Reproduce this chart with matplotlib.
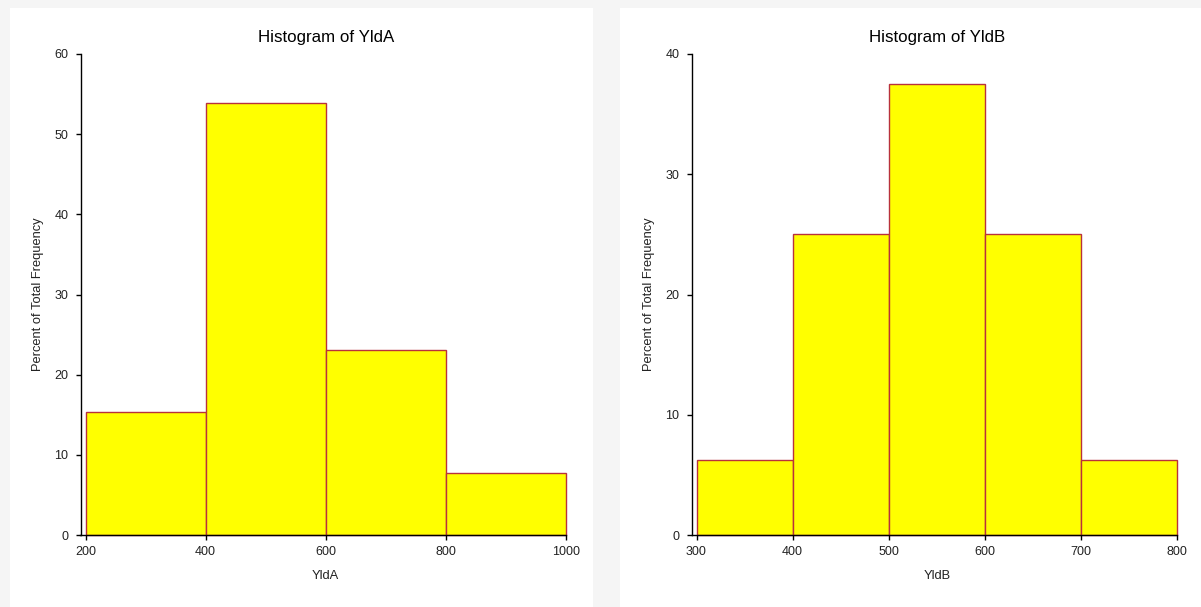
import matplotlib
matplotlib.use("Agg")
import matplotlib.pyplot as plt
from matplotlib.patches import Rectangle

plt.rcParams['font.family'] = ['Liberation Sans', 'DejaVu Sans']

# Data
binsA = [200, 400, 600, 800, 1000]
pctA = [15.38, 53.85, 23.08, 7.69]
binsB = [300, 400, 500, 600, 700, 800]
pctB = [6.25, 25.0, 37.5, 25.0, 6.25]
titles = ["Histogram of YldA", "Histogram of YldB"]
xlabels = ["YldA", "YldB"]
ylabel = "Percent of Total Frequency"
yticksA = [0, 10, 20, 30, 40, 50, 60]
yticksB = [0, 10, 20, 30, 40]

W, H = 1201, 607
fig = plt.figure(figsize=(W / 100, H / 100), dpi=100, facecolor='#f5f5f5')

# white panels
for (x0, x1) in [(10, 593), (620, 1201)]:
    fig.patches.append(Rectangle((x0 / W, 0), (x1 - x0) / W, (H - 8) / H,
                                 transform=fig.transFigure, facecolor='white',
                                 edgecolor='none', zorder=-10))

fill = '#ffff00'
edge = '#b8323c'
txt = '#222222'
OFFSET_PX = 5.0

def panel(rect, bins, pct, yticks, title, xlabel):
    ax = fig.add_axes(rect)
    ax.set_facecolor('none')
    widths = [bins[i + 1] - bins[i] for i in range(len(pct))]
    bars = ax.bar(bins[:-1], pct, width=widths, align='edge', color=fill,
                  edgecolor=edge, linewidth=1.0)
    for b in bars:
        b.set_clip_on(False)
    ax.set_xlim(bins[0], bins[-1])
    ax.set_ylim(yticks[0], yticks[-1])
    ax.set_xticks(bins)
    ax.set_yticks(yticks)
    for s in ['top', 'right']:
        ax.spines[s].set_visible(False)
    ax.spines['left'].set_position(('outward', OFFSET_PX * 72 / 100))
    # extend bottom axis line left to meet the offset y axis
    axw_px = rect[2] * W
    ext = OFFSET_PX * (bins[-1] - bins[0]) / axw_px
    ax.spines['bottom'].set_bounds(bins[0] - ext, bins[-1])
    for s in ['left', 'bottom']:
        ax.spines[s].set_color('black')
        ax.spines[s].set_linewidth(1.0)
    ax.tick_params(axis='both', length=3.6, width=1.0, color='black',
                   labelsize=9, labelcolor=txt, pad=4)
    ax.tick_params(axis='y', pad=5)
    ax.set_title(title, fontsize=12.2, color='black', pad=8.5)
    ax.set_xlabel(xlabel, fontsize=9.3, color=txt)
    ax.set_ylabel(ylabel, fontsize=9.3, color=txt)
    ax.xaxis.set_label_coords(0.5, -0.073)
    ax.yaxis.set_label_coords(-0.087, 0.5)
    return ax

bottom = (H - 535) / H
height = (535 - 54) / H
panel([85.5 / W, bottom, (566 - 85.5) / W, height], binsA, pctA, yticksA,
      titles[0], xlabels[0])
panel([696.5 / W, bottom, (1177 - 696.5) / W, height], binsB, pctB, yticksB,
      titles[1], xlabels[1])

fig.savefig('out.png', dpi=100, facecolor=fig.get_facecolor())
